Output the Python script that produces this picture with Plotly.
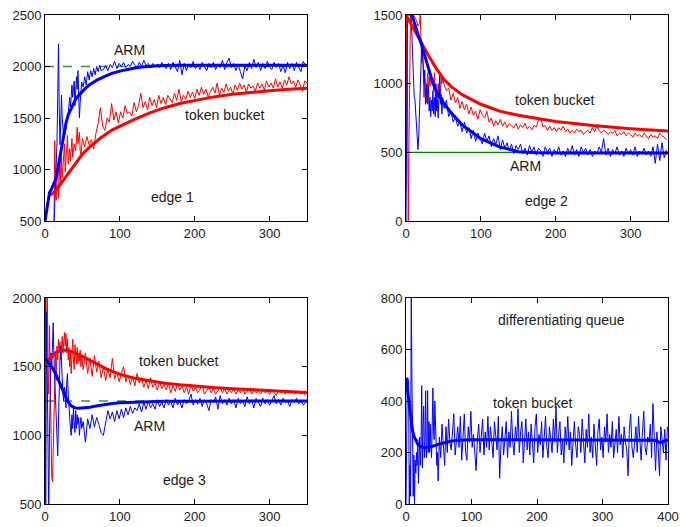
import plotly.graph_objects as go

# ---------------- data ----------------
# Edge 1
e1_arm_smooth_x = [0, 2, 4, 6, 8, 10, 12, 14, 16, 18, 20, 22, 25, 28, 31, 35, 40, 45, 50, 55, 60, 70, 80, 90, 100, 110, 120, 130, 140, 150, 170, 200, 250, 300, 350]
e1_arm_smooth_y = [500, 600, 720, 775, 800, 830, 860, 900, 960, 1040, 1130, 1230, 1350, 1450, 1530, 1600, 1670, 1720, 1760, 1795, 1825, 1870, 1905, 1935, 1955, 1972, 1985, 1995, 2003, 2008, 2012, 2012, 2012, 2012, 2012]
e1_tb_smooth_x = [5, 10, 15, 20, 25, 30, 40, 50, 60, 75, 90, 100, 120, 140, 160, 180, 200, 225, 250, 275, 300, 325, 350]
e1_tb_smooth_y = [750, 765, 800, 850, 905, 960, 1060, 1150, 1220, 1310, 1385, 1420, 1490, 1550, 1600, 1640, 1670, 1705, 1730, 1750, 1765, 1778, 1790]
e1_arm_early_x = [12, 14, 16, 17, 18, 19, 20, 21, 22, 23, 25, 27, 29, 31, 33, 34, 36, 37, 39, 40, 42, 43, 44, 45, 46, 47, 49, 51, 53, 55, 57, 59, 61, 63, 65, 67, 69, 71, 73, 75]
e1_arm_early_y = [450, 850, 1250, 1700, 2220, 1600, 1240, 1450, 1720, 1500, 1300, 1350, 1450, 1550, 1700, 1600, 1820, 1700, 1860, 1620, 1900, 1780, 1960, 1700, 1500, 1650, 1850, 1800, 1900, 1820, 1950, 1870, 1960, 1900, 1980, 1920, 2000, 1950, 2010, 1960]
e1_arm_tail_y = [1970, 2010, 1960, 2020, 1990, 2050, 1980, 2030, 2000, 2040, 1990, 2020, 2000, 2050, 2010, 1990, 2040, 2000, 2060, 2010,
                 2030, 1990, 2030, 2000, 2020, 1990, 2040, 2010, 1980, 2030, 1970, 2040, 2000, 1950, 2060, 1920, 2030, 1960, 2020, 1990,
                 2050, 1980, 2020, 1970, 2040, 2000, 1960, 2030, 1990, 2040, 1970, 2020, 1990, 2060, 1970, 2040, 2080, 1990, 2030, 1960,
                 2020, 1950, 1880, 2000, 1960, 2040, 1980, 2070, 1990, 2040, 1960, 2030, 1980, 2050, 2000, 1970, 2040, 1990, 2030, 1950,
                 2010, 1940, 2040, 1980, 2030, 1960, 2040, 1990, 1950, 2050, 2010]
e1_tb_early_x = [12, 13, 14, 15, 16, 17, 18, 19, 20, 21, 22, 23, 24, 26, 27, 28, 30, 31, 33, 34, 36, 37, 39, 41, 43, 44, 46, 47, 48]
e1_tb_early_y = [450, 1280, 900, 700, 950, 1050, 720, 980, 1100, 850, 1150, 920, 1050, 1250, 980, 1150, 1330, 1050, 1200, 1080, 1300, 1120, 1250, 1180, 1410, 1250, 1360, 1180, 1150]
e1_tb_tail_y = [1300, 1220, 1320, 1240, 1290, 1200, 1350, 1450, 1600, 1420, 1380, 1500, 1460, 1640, 1480, 1560, 1450, 1560, 1500, 1620,
                1540, 1560, 1520, 1650, 1560, 1620, 1740, 1600, 1660, 1580, 1700, 1620, 1680, 1600, 1720, 1640, 1700, 1630, 1720, 1680,
                1650, 1740, 1670, 1780, 1660, 1720, 1680, 1760, 1700, 1750, 1690, 1780, 1720, 1800, 1730, 1780, 1700, 1760, 1800, 1740,
                1840, 1720, 1790, 1750, 1830, 1760, 1800, 1730, 1820, 1770, 1840, 1780, 1820, 1750, 1830, 1790, 1810, 1760, 1840, 1790,
                1830, 1770, 1860, 1800, 1840, 1790, 1880, 1800, 1850, 1790, 1870, 1820, 1900, 1830, 1860, 1800, 1870, 1820, 1760, 1860, 1840]

# Edge 2
e2_tb_smooth_x = [0, 5, 10, 20, 30, 40, 50, 60, 75, 100, 125, 150, 175, 200, 250, 300, 350]
e2_tb_smooth_y = [1500, 1450, 1395, 1300, 1205, 1115, 1035, 980, 920, 850, 800, 770, 745, 725, 695, 672, 655]
e2_arm_smooth_x = [8, 12, 16, 20, 25, 30, 35, 40, 50, 60, 75, 100, 125, 150, 175, 200, 250, 300, 350]
e2_arm_smooth_y = [1500, 1420, 1360, 1300, 1200, 1100, 1020, 950, 860, 790, 700, 600, 540, 505, 497, 495, 495, 495, 495]
e2_tb_early_x = [0, 1, 2, 3, 4, 5, 6, 8, 10, 12, 14, 16, 18, 19, 20, 21, 22, 23, 24, 25, 26, 27, 28, 29, 30, 31, 32, 33, 35, 36, 37, 38, 39, 40, 41, 42, 43, 44, 45, 46, 47, 48, 49]
e2_tb_early_y = [250, 1500, 900, 0, 600, 1500, 1500, 1500, 1500, 1480, 1460, 1420, 1440, 1500, 1350, 1150, 1300, 1050, 900, 1040, 940, 860, 1000, 1080, 940, 1050, 980, 1060, 990, 1040, 950, 1080, 930, 820, 950, 880, 1000, 900, 960, 850, 1050, 1000, 1040]
e2_tb_tail_y = [990, 950, 970, 880, 930, 860, 900, 820, 870, 810, 850, 780, 830, 770, 800, 740, 810, 770, 750, 800,
                720, 750, 690, 730, 700, 740, 690, 720, 680, 710, 690, 680, 710, 670, 700, 680, 710, 670, 690, 665,
                695, 685, 735, 745, 685, 695, 660, 690, 660, 680, 650, 680, 660, 690, 650, 670, 640, 660, 640, 670,
                650, 660, 630, 650, 660, 640, 680, 650, 690, 660, 640, 660, 650, 630, 650, 640, 660, 620, 640, 630,
                650, 620, 640, 630, 610, 640, 620, 630, 610, 640, 620, 600, 630, 610, 620, 600, 640, 620, 610, 590]
e2_arm_early_x = [0, 1, 2, 3, 5, 7, 8, 9, 10, 11, 12, 13, 14, 15, 16, 17, 18, 19, 20, 21, 22, 23, 24, 25, 26, 27, 28, 29, 30, 31, 32, 33, 34, 35, 36, 37, 38, 39, 40, 41, 42, 43, 44, 45, 46, 47, 48, 49]
e2_arm_early_y = [0, 800, 1500, 1500, 1500, 1480, 1300, 1100, 1000, 900, 880, 780, 620, 540, 520, 620, 800, 1000, 1150, 1300, 1250, 1150, 1000, 1100, 850, 920, 1000, 850, 980, 800, 900, 760, 880, 800, 950, 780, 900, 760, 1000, 800, 880, 750, 900, 1080, 860, 920, 780, 900]
e2_arm_tail_y = [820, 880, 760, 800, 720, 760, 690, 720, 650, 720, 640, 680, 600, 660, 580, 640, 600, 560, 640, 580,
                 620, 540, 600, 560, 620, 520, 590, 530, 570, 510, 560, 490, 550, 520, 560, 490, 530, 480, 550, 500,
                 540, 480, 530, 510, 470, 540, 500, 530, 470, 520, 490, 540, 480, 510, 470, 530, 490, 550, 480, 520,
                 470, 540, 500, 530, 480, 520, 470, 510, 490, 540, 500, 600, 480, 530, 470, 520, 490, 540, 480, 510,
                 470, 530, 490, 520, 480, 540, 470, 510, 490, 530, 480, 510, 470, 540, 420, 560, 440, 570, 460, 520]

# Edge 3
e3_tb_smooth_x = [0, 5, 10, 15, 20, 25, 30, 35, 40, 50, 60, 70, 80, 90, 100, 120, 140, 160, 180, 200, 225, 250, 275, 300, 325, 350]
e3_tb_smooth_y = [1520, 1550, 1580, 1605, 1618, 1622, 1620, 1612, 1600, 1575, 1545, 1515, 1490, 1465, 1445, 1415, 1395, 1380, 1368, 1358, 1348, 1340, 1333, 1327, 1320, 1312]
e3_arm_smooth_x = [0, 3, 6, 10, 15, 20, 25, 30, 35, 40, 45, 50, 60, 70, 80, 90, 100, 120, 140, 160, 200, 250, 300, 350]
e3_arm_smooth_y = [1560, 1540, 1520, 1490, 1440, 1380, 1310, 1250, 1215, 1200, 1197, 1198, 1205, 1215, 1225, 1232, 1238, 1243, 1246, 1248, 1249, 1250, 1250, 1250]
e3_tb_early_x = list(range(0, 50))
e3_tb_early_y = [1500, 2100, 1600, 2100, 1500, 1300, 1800, 1450, 1000, 700, 660, 900, 1300, 1500, 1600, 1400, 1650, 1550, 1700, 1600,
                 1680, 1550, 1640, 1720, 1600, 1700, 1750, 1650, 1740, 1600, 1700, 1550, 1640, 1500, 1600, 1450, 1550, 1700, 1550, 1480,
                 1660, 1560, 1520, 1640, 1520, 1600, 1540, 1620, 1500, 1580]
e3_tb_tail_y = [1480, 1600, 1450, 1560, 1430, 1580, 1460, 1540, 1420, 1500, 1400, 1480, 1420, 1560, 1410, 1460, 1390, 1450, 1500, 1390,
                1440, 1370, 1430, 1360, 1450, 1380, 1420, 1350, 1400, 1340, 1420, 1350, 1380, 1330, 1390, 1340, 1370, 1330, 1380, 1310,
                1360, 1320, 1380, 1330, 1360, 1310, 1350, 1300, 1370, 1320, 1350, 1310, 1340, 1360, 1300, 1330, 1350, 1310, 1340, 1300,
                1330, 1350, 1310, 1340, 1300, 1330, 1310, 1340, 1300, 1330, 1310, 1340, 1300, 1320, 1340, 1300, 1330, 1310, 1320, 1300,
                1330, 1310, 1320, 1300, 1330, 1310, 1290, 1330, 1310, 1320, 1300, 1330, 1310, 1320, 1300, 1310, 1320, 1300, 1310, 1290]
e3_arm_early_x = list(range(0, 50))
e3_arm_early_y = [2100, 450, 1900, 1300, 800, 450, 1000, 1400, 1600, 1500, 1700, 1820, 1550, 1400, 1200, 1000, 870, 850, 1100, 1450,
                  1550, 1650, 1500, 1400, 1300, 1250, 1350, 1320, 1200, 1380, 1450, 1300, 1200, 1150, 1050, 1000, 1150, 1050, 1200, 1100,
                  1020, 1180, 1050, 1150, 1080, 1130, 1000, 1080, 1130, 1050]
e3_arm_tail_y = [1100, 950, 1120, 1050, 1150, 1060, 1130, 1080, 1020, 1000, 1100, 1180, 1120, 1170, 1100, 1180, 1120, 1190, 1130, 1200,
                 1150, 1210, 1160, 1200, 1180, 1230, 1170, 1240, 1190, 1250, 1200, 1230, 1190, 1260, 1210, 1240, 1200, 1260, 1220, 1250,
                 1200, 1270, 1220, 1250, 1200, 1260, 1230, 1250, 1300, 1220, 1260, 1230, 1270, 1210, 1260, 1230, 1180, 1260, 1240, 1280,
                 1190, 1290, 1230, 1260, 1220, 1270, 1230, 1260, 1200, 1270, 1230, 1250, 1210, 1280, 1230, 1260, 1200, 1270, 1240, 1210,
                 1270, 1230, 1260, 1220, 1250, 1290, 1230, 1260, 1220, 1270, 1240, 1250, 1210, 1260, 1240, 1270, 1230, 1250, 1220, 1240]

# Differentiating queue
dq_smooth_x = [0, 2, 4, 6, 8, 10, 12, 15, 18, 21, 25, 30, 35, 40, 50, 60, 70, 80, 100, 150, 200, 250, 300, 350, 380, 388, 395, 400]
dq_smooth_y = [490, 450, 400, 350, 310, 285, 265, 245, 232, 225, 220, 218, 220, 224, 232, 240, 245, 248, 250, 250, 250, 250, 250, 250, 248, 238, 245, 250]
dq_early_x = list(range(0, 50))
dq_early_y = [0, 480, 490, 490, 470, 0, 150, 30, 850, 500, 100, 30, 190, 0, 170, 120, 200, 150, 250, 80,
              180, 260, 150, 240, 460, 140, 300, 380, 180, 250, 440, 180, 220, 440, 200, 320, 200, 310, 230, 180,
              300, 450, 300, 250, 400, 320, 230, 150, 200, 90]
dq_tail_y = [260, 180, 310, 220, 150, 300, 200, 330, 240, 210,
             280, 350, 190, 260, 300, 220, 340, 170, 290, 350,
             200, 170, 300, 240, 360, 220, 270, 180, 130, 250,
             310, 200, 260, 330, 190, 280, 220, 340, 210, 300,
             240, 180, 320, 260, 210, 340, 100, 230, 300, 190,
             260, 320, 180, 280, 220, 360, 240, 190, 300, 250,
             370, 200, 280, 320, 160, 260, 330, 210, 280, 190,
             310, 240, 160, 300, 350, 200, 270, 230, 320, 180,
             260, 340, 220, 180, 300, 250, 200, 330, 240, 380,
             200, 270, 320, 190, 250, 160, 300, 230, 340, 210,
             280, 150, 260, 320, 230, 180, 300, 270, 200, 330,
             240, 160, 290, 220, 350, 200, 260, 180, 310, 240,
             150, 280, 330, 210, 260, 180, 300, 240, 350, 200,
             270, 220, 320, 180, 250, 290, 200, 340, 230, 270,
             180, 300, 240, 210, 110, 290, 350, 220, 180, 260,
             300, 200, 340, 250, 170, 280, 360, 220, 190, 260,
             240, 310, 180, 390, 260, 130, 280, 220, 110, 300,
             250, 200, 290, 170, 300]

# ---------------- styling ----------------
BLUE = '#0000ff'
RED = '#ff0000'
GREEN_D = '#2f9a2f'
GREEN_S = '#008000'
FONT = 'Liberation Sans, Arial, Helvetica, sans-serif'
TXT = '#1a1a1a'

W, H = 680, 527


def tail_x(start, step, vals):
    return [start + step * i for i in range(len(vals))]


fig = go.Figure()


def line(x, y, color, width, ax, dash=None):
    fig.add_trace(go.Scatter(x=x, y=y, mode='lines', xaxis=ax[0], yaxis=ax[1],
                             line=dict(color=color, width=width, dash=dash),
                             hoverinfo='skip', showlegend=False))


A1, A2, A3, A4 = ('x', 'y'), ('x2', 'y2'), ('x3', 'y3'), ('x4', 'y4')

# panel 1
line([0, 350], [2000, 2000], GREEN_D, 1.5, A1, 'dash')
line(e1_tb_early_x + tail_x(50, 3, e1_tb_tail_y), e1_tb_early_y + e1_tb_tail_y, RED, 1, A1)
line(e1_arm_early_x + tail_x(78, 3, e1_arm_tail_y), e1_arm_early_y + e1_arm_tail_y, BLUE, 1, A1)
line(e1_tb_smooth_x, e1_tb_smooth_y, RED, 3, A1)
line(e1_arm_smooth_x, e1_arm_smooth_y, BLUE, 3, A1)

# panel 2
line([0, 350], [500, 500], GREEN_S, 1.2, A2)
line(e2_tb_early_x + tail_x(51, 3, e2_tb_tail_y), e2_tb_early_y + e2_tb_tail_y, RED, 1, A2)
line(e2_arm_early_x + tail_x(51, 3, e2_arm_tail_y), e2_arm_early_y + e2_arm_tail_y, BLUE, 1, A2)
line(e2_tb_smooth_x, e2_tb_smooth_y, RED, 3, A2)
line(e2_arm_smooth_x, e2_arm_smooth_y, BLUE, 3, A2)

# panel 3
line([0, 350], [1250, 1250], GREEN_D, 1.5, A3, 'dash')
line(e3_tb_early_x + tail_x(51, 3, e3_tb_tail_y), e3_tb_early_y + e3_tb_tail_y, RED, 1, A3)
line(e3_arm_early_x + tail_x(51, 3, e3_arm_tail_y), e3_arm_early_y + e3_arm_tail_y, BLUE, 1, A3)
line(e3_tb_smooth_x, e3_tb_smooth_y, RED, 3, A3)
line(e3_arm_smooth_x, e3_arm_smooth_y, BLUE, 3, A3)

# panel 4
line(dq_early_x + tail_x(51, 2, dq_tail_y), dq_early_y + dq_tail_y, BLUE, 1, A4)
line(dq_smooth_x, dq_smooth_y, BLUE, 3, A4)


def ax(domain, rng, tickvals, anchor):
    return dict(domain=domain, range=rng, tickvals=tickvals, ticktext=[str(v) for v in tickvals],
                showline=True, linecolor='black', linewidth=1, mirror='ticks',
                ticks='inside', ticklen=5, tickcolor='black', showgrid=False, zeroline=False,
                automargin=False, anchor=anchor, ticklabeloverflow='allow',
                tickfont=dict(family=FONT, size=13, color=TXT), fixedrange=True)


def xdom(p0, p1):
    return [p0 / W, p1 / W]


def ydom(ptop, pbot):
    return [1 - pbot / H, 1 - ptop / H]


X_L = xdom(45, 307)
X_R = xdom(406, 668)
Y_T = ydom(15, 221)
Y_B = ydom(298, 504)

fig.update_layout(
    template='none',
    width=W, height=H,
    margin=dict(l=0, r=0, t=0, b=0, autoexpand=False),
    paper_bgcolor='white', plot_bgcolor='white',
    showlegend=False,
    font=dict(family=FONT, size=13, color=TXT),
    xaxis=ax(X_L, [0, 350], [0, 100, 200, 300], 'y'),
    yaxis=ax(Y_T, [500, 2500], [500, 1000, 1500, 2000, 2500], 'x'),
    xaxis2=ax(X_R, [0, 350], [0, 100, 200, 300], 'y2'),
    yaxis2=ax(Y_T, [0, 1500], [0, 500, 1000, 1500], 'x2'),
    xaxis3=ax(X_L, [0, 350], [0, 100, 200, 300], 'y3'),
    yaxis3=ax(Y_B, [500, 2000], [500, 1000, 1500, 2000], 'x3'),
    xaxis4=ax(X_R, [0, 400], [0, 100, 200, 300, 400], 'y4'),
    yaxis4=ax(Y_B, [0, 800], [0, 200, 400, 600, 800], 'x4'),
)

labels = [
    ('x', 'y', 113, 2160, 'ARM'),
    ('x', 'y', 240, 1529, 'token bucket'),
    ('x', 'y', 170, 733, 'edge 1'),
    ('x2', 'y2', 199, 880, 'token bucket'),
    ('x2', 'y2', 159, 397, 'ARM'),
    ('x2', 'y2', 188, 144, 'edge 2'),
    ('x3', 'y3', 178, 1544, 'token bucket'),
    ('x3', 'y3', 139, 1070, 'ARM'),
    ('x3', 'y3', 186, 677, 'edge 3'),
    ('x4', 'y4', 237, 715, 'differentiating queue'),
    ('x4', 'y4', 193, 392, 'token bucket'),
]
for xr, yr, xv, yv, t in labels:
    fig.add_annotation(xref=xr, yref=yr, x=xv, y=yv, text=t, showarrow=False,
                       font=dict(family=FONT, size=14, color=TXT))

# Put the 680x527 figure flush with the page corner (no default body margin),
# and hide the hover toolbar.
fig.write_html("out.html", config={'displayModeBar': False},
               post_script="document.body.style.margin='0';document.body.style.overflow='hidden';")
